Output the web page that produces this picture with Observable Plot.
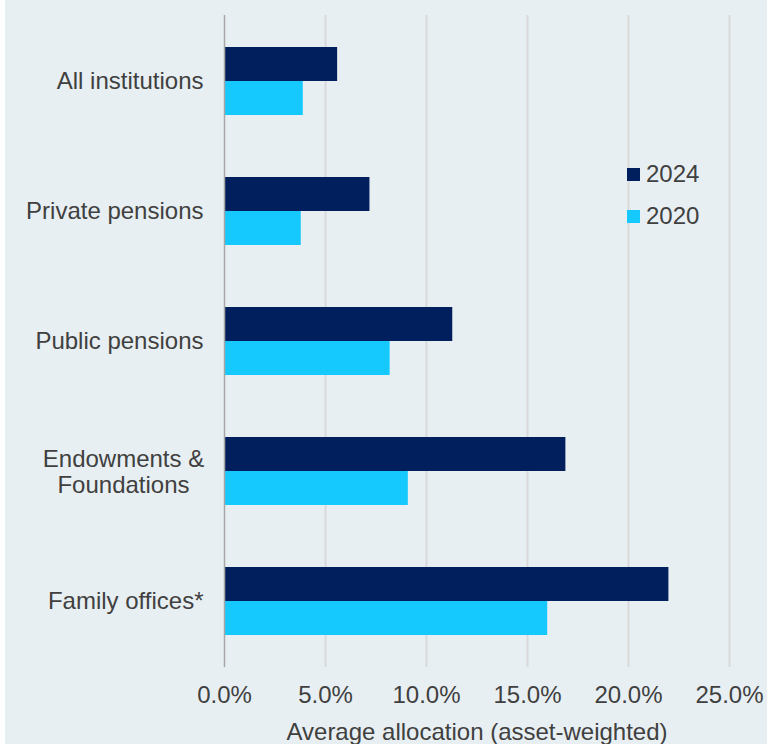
<!DOCTYPE html>
<html>
<head>
<meta charset="utf-8">
<script src="https://cdn.jsdelivr.net/npm/d3@7"></script>
<script src="https://cdn.jsdelivr.net/npm/@observablehq/plot@0.6"></script>
<style>
  html, body { margin: 0; padding: 0; background: #ffffff; }
  #wrap { position: relative; margin-left: 5px; width: 762px; height: 744px; background: #e8eff2; overflow: hidden; }
  #legend { position: absolute; left: 622px; top: 160px; font-family: "Liberation Sans", Arial, sans-serif; font-size: 24px; color: #404040; }
  .item { display: flex; align-items: center; height: 28px; margin-bottom: 14px; }
  .sw { width: 13px; height: 13px; margin-right: 6px; }
</style>
</head>
<body>
<div id="wrap"><div id="legend"></div></div>
<script>
const categories = ["All institutions", "Private pensions", "Public pensions", "Endowments &\nFoundations", "Family offices*"];
const series = ["2024", "2020"];
const values2024 = [5.6, 7.2, 11.3, 16.9, 22.0];
const values2020 = [3.9, 3.8, 8.2, 9.1, 16.0];
const xTicks = [0, 5, 10, 15, 20, 25];
const colors = ["#001f5c", "#15c9ff"];
const axisTitle = "Average allocation (asset-weighted)";

const data = categories.map((c, i) => ({cat: c, v2024: values2024[i], v2020: values2020[i]}));
const multiLine = categories.filter(c => c.includes("\n"));

const chart = Plot.plot({
  width: 762,
  height: 744,
  marginLeft: 219,
  marginRight: 38,
  marginTop: 15,
  marginBottom: 77,
  style: {background: "transparent", fontFamily: "'Liberation Sans', Arial, sans-serif", fontSize: "24px", color: "#404040", overflow: "visible"},
  x: {domain: [0, 25]},
  y: {domain: categories, paddingInner: 0.479, paddingOuter: 0.236},
  marks: [
    Plot.gridX(xTicks.slice(1), {stroke: "#d9d9d9", strokeWidth: 2, strokeOpacity: 1}),
    Plot.barX(data, {x: "v2024", y: "cat", fill: colors[0], insetBottom: 34}),
    Plot.barX(data, {x: "v2020", y: "cat", fill: colors[1], insetTop: 34}),
    Plot.ruleX([0], {stroke: "#a6a6a6", strokeWidth: 1.5}),
    Plot.axisX({ticks: xTicks, tickSize: 0, tickPadding: 18, line: true, stroke: "#bfbfbf", strokeWidth: 1.5, fill: "#404040", fontSize: 24,
      tickFormat: d => d.toFixed(1) + "%", label: null}),
    Plot.text([axisTitle], {frameAnchor: "bottom", dy: 72, fontSize: 24, fill: "#404040"}),
    Plot.axisY({tickSize: 0, tickPadding: 21, fontSize: 24, fill: "#404040", label: null,
      tickFormat: d => d.includes("\n") ? "" : d}),
    Plot.text(multiLine, {y: d => d, text: d => d, frameAnchor: "left", textAnchor: "middle", dx: -101, lineHeight: 1.1, fontSize: 24, fill: "#404040"})
  ]
});
document.getElementById("wrap").prepend(chart);

const legend = document.getElementById("legend");
series.forEach((s, i) => {
  const item = document.createElement("div");
  item.className = "item";
  const sw = document.createElement("div");
  sw.className = "sw";
  sw.style.background = colors[i];
  const t = document.createElement("span");
  t.textContent = s;
  item.append(sw, t);
  legend.append(item);
});
</script>
</body>
</html>
